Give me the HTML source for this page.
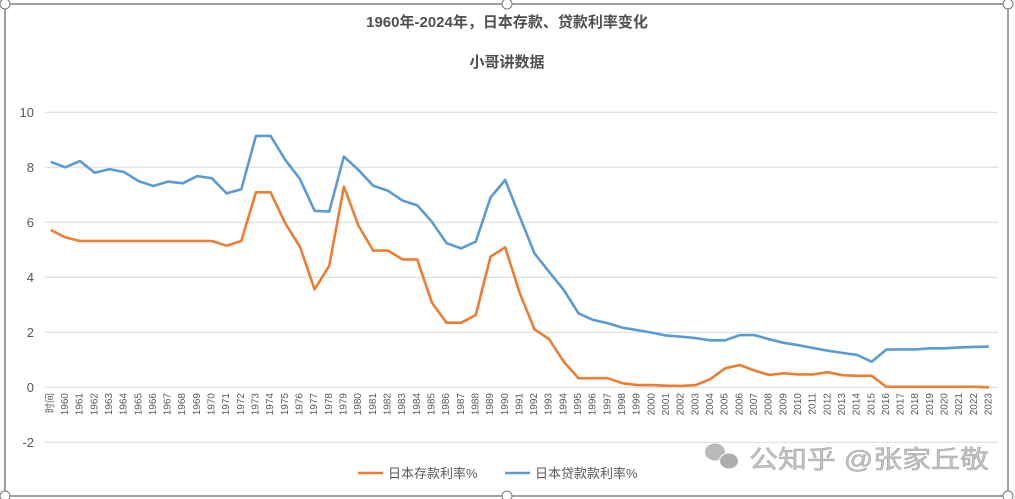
<!DOCTYPE html>
<html><head><meta charset="utf-8"><style>
html,body{margin:0;padding:0;background:#fff;}
svg{display:block;font-family:"Liberation Sans","Noto Sans CJK SC",sans-serif;}
</style></head><body>
<svg id="s" width="1015" height="499" viewBox="0 0 1015 499" xmlns="http://www.w3.org/2000/svg">
<rect x="0" y="0" width="1015" height="499" fill="#fff"/>
<rect x="5" y="4" width="1003" height="492" fill="#fff" stroke="#404040" stroke-width="1"/>
<circle cx="5" cy="4" r="5" fill="#fff" stroke="#777"/>
<circle cx="1008" cy="496" r="5" fill="#fff" stroke="#777"/>
<circle cx="507" cy="4" r="5" fill="#fff" stroke="#777"/>
<circle cx="507" cy="496" r="5" fill="#fff" stroke="#777"/>
<circle cx="1008" cy="4" r="5" fill="#fff" stroke="#777"/>
<circle cx="5" cy="496" r="5" fill="#fff" stroke="#777"/>
<text x="507" y="27" text-anchor="middle" font-size="15" font-weight="bold" fill="#505050">1960年-2024年，日本存款、贷款利率变化</text>
<text x="507" y="67" text-anchor="middle" font-size="15" font-weight="bold" fill="#505050">小哥讲数据</text>
<g stroke="#d9d9d9" stroke-width="1">
<line x1="45" x2="998" y1="112.3" y2="112.3"/><line x1="45" x2="998" y1="167.3" y2="167.3"/>
<line x1="45" x2="998" y1="222.3" y2="222.3"/><line x1="45" x2="998" y1="277.3" y2="277.3"/>
<line x1="45" x2="998" y1="332.3" y2="332.3"/><line x1="45" x2="998" y1="387.3" y2="387.3"/>
<line x1="45" x2="998" y1="442.3" y2="442.3"/>
</g>
<g font-size="13" fill="#595959" text-anchor="end">
<text x="34" y="117">10</text><text x="34" y="172">8</text><text x="34" y="227">6</text>
<text x="34" y="282">4</text><text x="34" y="337">2</text><text x="34" y="392">0</text><text x="34" y="447">-2</text>
</g>
<g id="xl" font-size="10" fill="#595959" text-anchor="end" dominant-baseline="middle">
<text transform="translate(50.7,393) rotate(-90)">时间</text>
<text transform="translate(65.4,393) rotate(-90)">1960</text>
<text transform="translate(80.0,393) rotate(-90)">1961</text>
<text transform="translate(94.7,393) rotate(-90)">1962</text>
<text transform="translate(109.3,393) rotate(-90)">1963</text>
<text transform="translate(124.0,393) rotate(-90)">1964</text>
<text transform="translate(138.7,393) rotate(-90)">1965</text>
<text transform="translate(153.3,393) rotate(-90)">1966</text>
<text transform="translate(168.0,393) rotate(-90)">1967</text>
<text transform="translate(182.6,393) rotate(-90)">1968</text>
<text transform="translate(197.3,393) rotate(-90)">1969</text>
<text transform="translate(212.0,393) rotate(-90)">1970</text>
<text transform="translate(226.6,393) rotate(-90)">1971</text>
<text transform="translate(241.3,393) rotate(-90)">1972</text>
<text transform="translate(255.9,393) rotate(-90)">1973</text>
<text transform="translate(270.6,393) rotate(-90)">1974</text>
<text transform="translate(285.3,393) rotate(-90)">1975</text>
<text transform="translate(299.9,393) rotate(-90)">1976</text>
<text transform="translate(314.6,393) rotate(-90)">1977</text>
<text transform="translate(329.2,393) rotate(-90)">1978</text>
<text transform="translate(343.9,393) rotate(-90)">1979</text>
<text transform="translate(358.6,393) rotate(-90)">1980</text>
<text transform="translate(373.2,393) rotate(-90)">1981</text>
<text transform="translate(387.9,393) rotate(-90)">1982</text>
<text transform="translate(402.5,393) rotate(-90)">1983</text>
<text transform="translate(417.2,393) rotate(-90)">1984</text>
<text transform="translate(431.9,393) rotate(-90)">1985</text>
<text transform="translate(446.5,393) rotate(-90)">1986</text>
<text transform="translate(461.2,393) rotate(-90)">1987</text>
<text transform="translate(475.8,393) rotate(-90)">1988</text>
<text transform="translate(490.5,393) rotate(-90)">1989</text>
<text transform="translate(505.2,393) rotate(-90)">1990</text>
<text transform="translate(519.8,393) rotate(-90)">1991</text>
<text transform="translate(534.5,393) rotate(-90)">1992</text>
<text transform="translate(549.1,393) rotate(-90)">1993</text>
<text transform="translate(563.8,393) rotate(-90)">1994</text>
<text transform="translate(578.5,393) rotate(-90)">1995</text>
<text transform="translate(593.1,393) rotate(-90)">1996</text>
<text transform="translate(607.8,393) rotate(-90)">1997</text>
<text transform="translate(622.4,393) rotate(-90)">1998</text>
<text transform="translate(637.1,393) rotate(-90)">1999</text>
<text transform="translate(651.8,393) rotate(-90)">2000</text>
<text transform="translate(666.4,393) rotate(-90)">2001</text>
<text transform="translate(681.1,393) rotate(-90)">2002</text>
<text transform="translate(695.7,393) rotate(-90)">2003</text>
<text transform="translate(710.4,393) rotate(-90)">2004</text>
<text transform="translate(725.1,393) rotate(-90)">2005</text>
<text transform="translate(739.7,393) rotate(-90)">2006</text>
<text transform="translate(754.4,393) rotate(-90)">2007</text>
<text transform="translate(769.0,393) rotate(-90)">2008</text>
<text transform="translate(783.7,393) rotate(-90)">2009</text>
<text transform="translate(798.4,393) rotate(-90)">2010</text>
<text transform="translate(813.0,393) rotate(-90)">2011</text>
<text transform="translate(827.7,393) rotate(-90)">2012</text>
<text transform="translate(842.3,393) rotate(-90)">2013</text>
<text transform="translate(857.0,393) rotate(-90)">2014</text>
<text transform="translate(871.7,393) rotate(-90)">2015</text>
<text transform="translate(886.3,393) rotate(-90)">2016</text>
<text transform="translate(901.0,393) rotate(-90)">2017</text>
<text transform="translate(915.6,393) rotate(-90)">2018</text>
<text transform="translate(930.3,393) rotate(-90)">2019</text>
<text transform="translate(945.0,393) rotate(-90)">2020</text>
<text transform="translate(959.6,393) rotate(-90)">2021</text>
<text transform="translate(974.3,393) rotate(-90)">2022</text>
<text transform="translate(988.9,393) rotate(-90)">2023</text>
</g>
<polyline id="blue" fill="none" stroke="#5b9bd5" stroke-width="2.6" stroke-linejoin="round"/>
<polyline id="orange" fill="none" stroke="#ed7d31" stroke-width="2.6" stroke-linejoin="round"/>
<line x1="358" x2="383" y1="473" y2="473" stroke="#ed7d31" stroke-width="2.6"/>
<text x="388" y="478" font-size="13" fill="#595959">日本存款利率%</text>
<line x1="505" x2="530" y1="473" y2="473" stroke="#5b9bd5" stroke-width="2.6"/>
<text x="535" y="478" font-size="13" fill="#595959">日本贷款款利率%</text>
<g opacity="0.8">
<ellipse cx="715" cy="452" rx="10" ry="8.5" fill="#aaa"/>
<ellipse cx="729" cy="461" rx="9.5" ry="8" fill="#999" stroke="#fff" stroke-width="1"/>
<text x="749" y="468" font-size="25" fill="#b5b5b5" stroke="#8a8a8a" stroke-width="0.5" textLength="240" lengthAdjust="spacingAndGlyphs">公知乎 @张家丘敬</text>
</g>
</svg>
<script>
var b=[8.2,8.0,8.23,7.8,7.93,7.83,7.5,7.32,7.48,7.42,7.68,7.6,7.05,7.2,9.14,9.14,8.27,7.58,6.42,6.39,8.39,7.9,7.33,7.15,6.79,6.62,6.02,5.24,5.05,5.3,6.9,7.54,6.2,4.87,4.2,3.54,2.69,2.45,2.33,2.17,2.08,1.99,1.88,1.84,1.79,1.71,1.71,1.9,1.9,1.75,1.62,1.53,1.43,1.33,1.25,1.18,0.93,1.37,1.38,1.38,1.42,1.42,1.45,1.47,1.48];
var o=[5.72,5.45,5.32,5.32,5.32,5.32,5.32,5.32,5.32,5.32,5.32,5.32,5.15,5.32,7.09,7.09,5.96,5.12,3.56,4.42,7.3,5.87,4.97,4.97,4.65,4.65,3.08,2.35,2.35,2.63,4.75,5.09,3.42,2.11,1.75,0.93,0.33,0.33,0.33,0.15,0.08,0.08,0.06,0.05,0.08,0.3,0.69,0.81,0.61,0.45,0.51,0.47,0.47,0.55,0.44,0.42,0.42,0.02,0.02,0.02,0.02,0.02,0.02,0.02,0];
function pts(a){return a.map(function(v,i){return (50.7+14.66*i).toFixed(1)+","+(387.3-27.5*v).toFixed(1);}).join(" ");}
document.getElementById("blue").setAttribute("points",pts(b));
document.getElementById("orange").setAttribute("points",pts(o));
</script>
</body></html>
